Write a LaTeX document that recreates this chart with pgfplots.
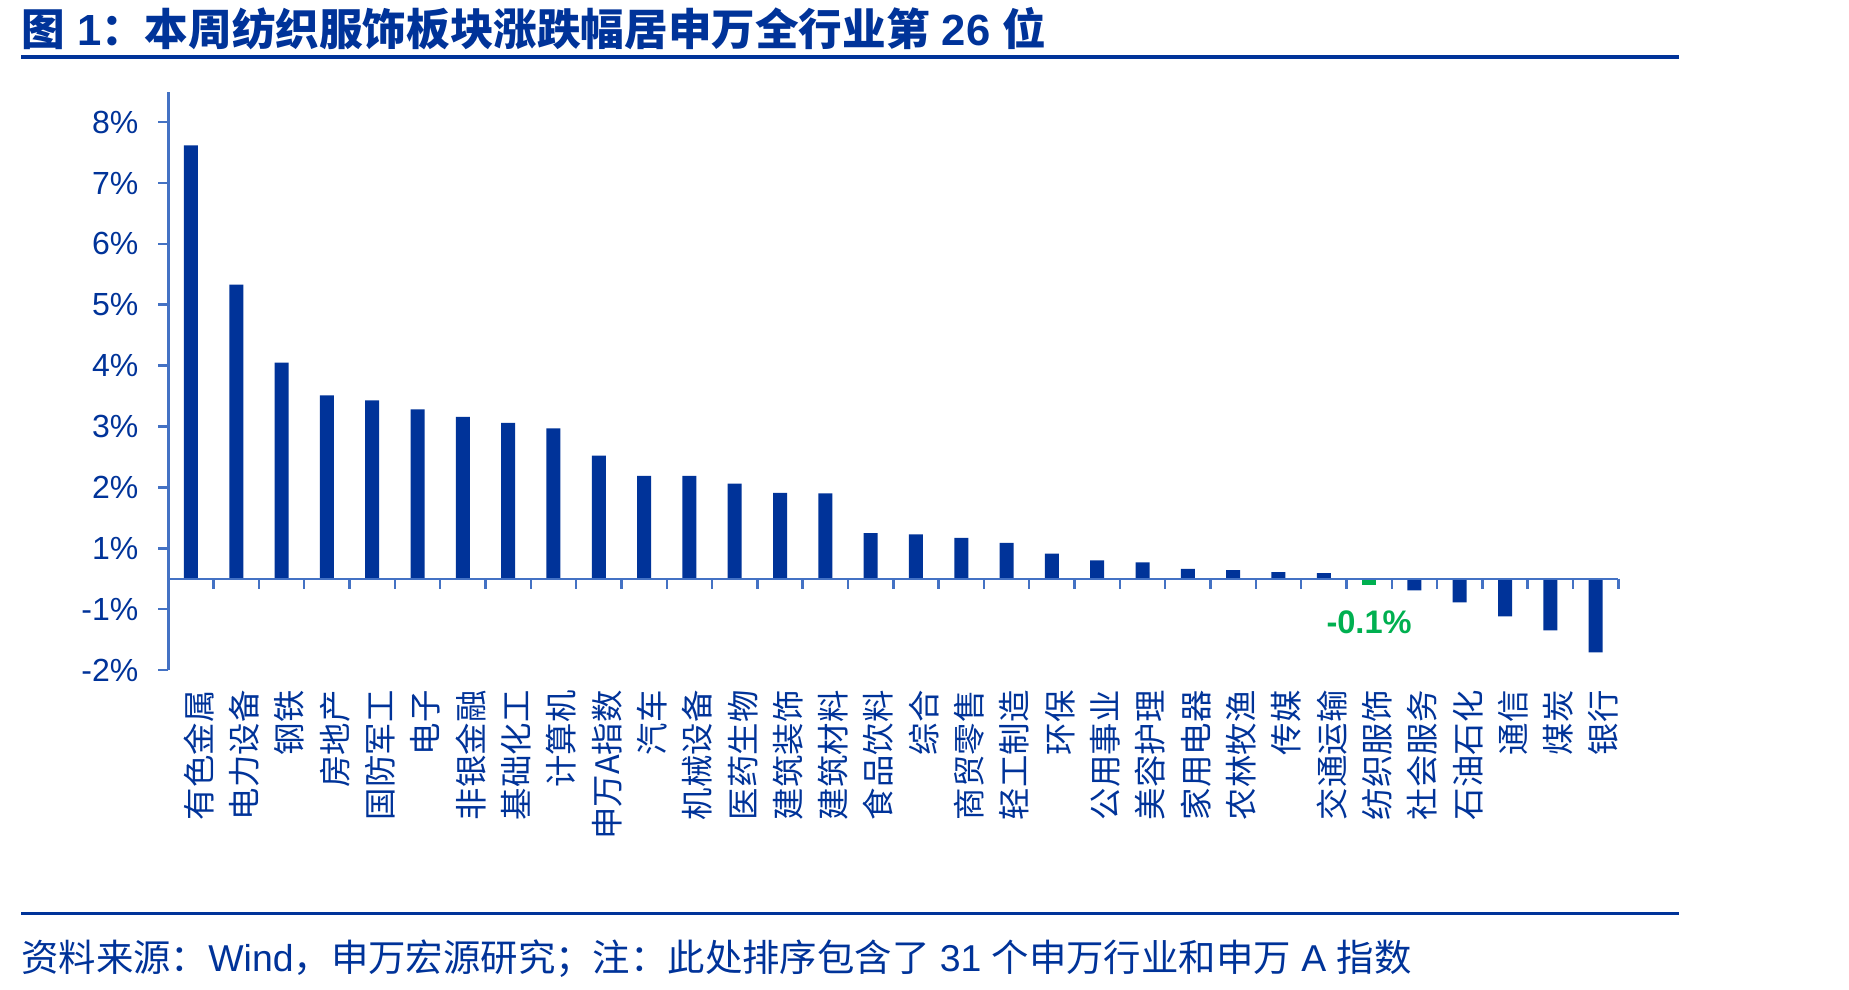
\documentclass[border=0pt]{standalone}
\usepackage{pgfplots}
\pgfplotsset{compat=1.18}
\usetikzlibrary{calc}
\usepackage{fontspec}
\setmainfont{Liberation Sans}
\newfontfamily\cjk{Noto Sans CJK SC}

\definecolor{barblue}{RGB}{0,51,153}
\definecolor{textblue}{RGB}{0,51,153}
\definecolor{axisblue}{RGB}{68,114,196}
\definecolor{labelgreen}{RGB}{0,176,80}

\begin{document}
\begin{tikzpicture}
% page background
\fill[white] (0,0) rectangle (924.5bp,-495bp);

% title and rules
\node[anchor=base west, inner sep=0pt, text=textblue,
      font=\bfseries\fontsize{21.8bp}{26bp}\selectfont] at (10.5bp,-22.5bp)
  {{\cjk 图} 1{\cjk ：本周纺织服饰板块涨跌幅居申万全行业第} 26 {\cjk 位}};
\draw[textblue, line width=1.75bp] (10.5bp,-28.5bp) -- (839.5bp,-28.5bp);
\draw[textblue, line width=1.9bp] (10.5bp,-456.75bp) -- (839.5bp,-456.75bp);
\node[anchor=base west, inner sep=0pt, text=textblue,
      font=\fontsize{18.7bp}{22bp}\selectfont] at (10.5bp,-485.5bp)
  {{\cjk 资料来源：}Wind{\cjk ，申万宏源研究；注：此处排序包含了} 31 {\cjk 个申万行业和申万} A {\cjk 指数}};

\begin{axis}[
  at={(84.15bp,-335bp)}, anchor=south west,
  scale only axis, width=725bp, height=289.15bp,
  xmin=-0.5, xmax=31.5, ymin=-1.5, ymax=8,
  axis y line*=left, axis x line*=bottom,
  axis line style={draw=none},
  xtick={0,...,31},
  xticklabels={有色金属,电力设备,钢铁,房地产,国防军工,电子,非银金融,基础化工,计算机,申万A指数,汽车,机械设备,医药生物,建筑装饰,建筑材料,食品饮料,综合,商贸零售,轻工制造,环保,公用事业,美容护理,家用电器,农林牧渔,传媒,交通运输,纺织服饰,社会服务,石油石化,通信,煤炭,银行},
  tick style={draw=none},
  xticklabel style={font=\cjk\fontsize{16.2bp}{18bp}\selectfont, text=textblue,
                    inner sep=0pt, xshift=4bp, yshift=-5bp, rotate=90, anchor=east},
  ytick={-1.5,-0.5,0.5,1.5,2.5,3.5,4.5,5.5,6.5,7.5},
  yticklabels={-2\%,-1\%,1\%,2\%,3\%,4\%,5\%,6\%,7\%,8\%},
  tick align=outside,
  major tick length=5bp,
  yticklabel style={font=\fontsize{16bp}{18bp}\selectfont, text=textblue,
                    inner sep=0pt, anchor=east, xshift=-9.8bp},
  ybar, bar width=7bp, bar shift=0pt,
  clip=false,
]
% weekly change of each industry (%)
\addplot[fill=barblue, draw=none] coordinates {
  (0,7.12) (1,4.83) (2,3.55) (3,3.01) (4,2.93) (5,2.78) (6,2.66) (7,2.56)
  (8,2.47) (9,2.02) (10,1.69) (11,1.69) (12,1.56) (13,1.41) (14,1.40)
  (15,0.75) (16,0.73) (17,0.67) (18,0.59) (19,0.41) (20,0.30) (21,0.27)
  (22,0.16) (23,0.14) (24,0.11) (25,0.09)
  (27,-0.19) (28,-0.39) (29,-0.62) (30,-0.85) (31,-1.21)
};
% textiles & apparel, highlighted
\addplot[fill=labelgreen, draw=none, point meta=y,
  nodes near coords={\pgfmathprintnumber[fixed,precision=1,assume math mode=true]{\pgfplotspointmeta}\%},
  nodes near coords style={font=\bfseries\fontsize{16.3bp}{18bp}\selectfont,
                           text=labelgreen, inner sep=0pt, yshift=-12.8bp}]
  coordinates {(26,-0.1)};

% category axis at zero with boundary ticks
\draw[axisblue, line width=1.2bp] (axis cs:-0.5,0) -- (axis cs:31.5,0);
\pgfplotsinvokeforeach{0.5,1.5,...,31.5}{
  \draw[axisblue, line width=1.2bp] (axis cs:#1,0) -- (axis cs:#1,-0.1642);
}
% anchors for the value axis, drawn after the axis
\coordinate (ytop) at (axis cs:-0.5,8);
\coordinate (yA) at (axis cs:-0.5,-1.5);
\coordinate (yB) at (axis cs:-0.5,7.5);
\end{axis}

% value axis with outside ticks
\draw[axisblue, line width=1.3bp] (yA) -- (ytop);
\foreach \k in {0,...,9}{
  \draw[axisblue, line width=1.3bp] ($(yA)!\k/9!(yB)$) -- ++(-5bp,0);
}
\end{tikzpicture}
\end{document}
